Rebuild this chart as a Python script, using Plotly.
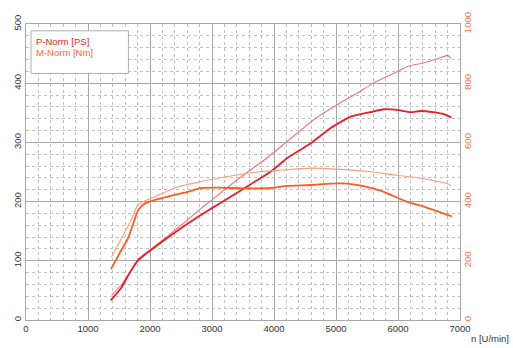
import plotly.graph_objects as go

# Power curve, main run (PS)
p_rpm = [1365, 1540, 1675, 1810, 2000, 2350, 2800, 3000, 3450, 3950, 4220, 4600,
         4910, 5100, 5250, 5550, 5770, 5980, 6200, 6360, 6570, 6760, 6860]
p_ps = [33, 55, 80, 101, 117, 144, 176, 189, 218, 251, 274, 299,
        324, 336, 344, 351, 356, 355, 351, 353, 351, 347, 342]

# Power curve, second run (PS)
p2_rpm = [1380, 1540, 1680, 1810, 2020, 2500, 2830, 3000, 3360, 3900, 4160, 4650,
          5070, 5340, 5610, 5960, 6170, 6410, 6680, 6800, 6855]
p2_ps = [42, 60, 82, 103, 120, 160, 189, 203, 233, 275, 297, 339,
         367, 383, 401, 418, 429, 434, 443, 447, 442]

# Torque curve, main run (Nm)
m_rpm = [1370, 1500, 1650, 1810, 1920, 2290, 2610, 2830, 3100, 3500, 3950, 4220,
         4590, 4910, 5180, 5390, 5560, 5770, 6140, 6460, 6870]
m_nm = [172, 222, 278, 372, 394, 417, 433, 446, 447, 445, 446, 453,
        456, 461, 461, 455, 446, 433, 400, 380, 350]

# Torque curve, second run (Nm)
m2_rpm = [1380, 1550, 1700, 1810, 2020, 2450, 2830, 3250, 3740, 4100, 4590, 5070,
          5560, 5980, 6250, 6620, 6790, 6855]
m2_nm = [213, 280, 340, 391, 411, 450, 468, 485, 500, 506, 513, 509,
         501, 489, 483, 469, 461, 453]

x_ticks = [0, 1000, 2000, 3000, 4000, 5000, 6000, 7000]
ps_ticks = [0, 100, 200, 300, 400, 500]
nm_ticks = [0, 200, 400, 600, 800, 1000]

RED = "#ee1c25"
PINK = "#f3737c"
ORANGE = "#ff5a22"
SALMON = "#ff9c7c"
NM_TEXT = "#ff6a3a"
GRID = "#a8a8a8"
MINOR = "#c0c0c0"
FONT = "Liberation Sans, Arial, sans-serif"


def curve(x, y, color, width, axis):
    return go.Scatter(x=x, y=y, mode="lines", yaxis=axis,
                      line=dict(color=color, width=width, shape="spline", smoothing=0.5))


fig = go.Figure()
fig.add_trace(curve(p2_rpm, p2_ps, PINK, 1.1, "y"))
fig.add_trace(curve(p_rpm, p_ps, RED, 1.8, "y"))
fig.add_trace(curve(m2_rpm, m2_nm, SALMON, 1.1, "y2"))
fig.add_trace(curve(m_rpm, m_nm, ORANGE, 1.8, "y2"))

fig.update_layout(
    width=513, height=348,
    margin=dict(l=24, r=53, t=20, b=28),
    paper_bgcolor="white", plot_bgcolor="white",
    showlegend=False,
    font=dict(family=FONT, size=9, color="#333333"),
    xaxis=dict(
        range=[0, 7000], tickvals=x_ticks, ticktext=[str(v) for v in x_ticks],
        showgrid=True, gridcolor=GRID, gridwidth=1,
        minor=dict(dtick=200, tick0=0, showgrid=True, gridcolor=MINOR,
                   griddash="3px,3px", gridwidth=1),
        showline=True, linecolor=GRID, linewidth=1, mirror=True,
        zeroline=False, ticks="", tickfont=dict(size=9.5, color="#333333"),
    ),
    yaxis=dict(
        range=[0, 500], tickvals=ps_ticks, ticktext=[str(v) for v in ps_ticks],
        showgrid=True, gridcolor=GRID, gridwidth=1,
        minor=dict(dtick=20, tick0=0, showgrid=True, gridcolor=MINOR,
                   griddash="3px,3px", gridwidth=1),
        showline=True, linecolor=GRID, linewidth=1, mirror=True,
        zeroline=False, ticks="", tickangle=-90,
        tickfont=dict(size=9.5, color="#333333"),
    ),
    yaxis2=dict(
        range=[0, 1000], tickvals=nm_ticks, ticktext=[str(v) for v in nm_ticks],
        overlaying="y", side="right", showgrid=False, zeroline=False,
        ticks="", tickangle=-90, tickfont=dict(size=9.5, color=NM_TEXT),
    ),
)

# Legend box with coloured labels
fig.add_shape(type="rect", xref="paper", yref="paper",
              x0=0.0115, x1=0.236, y0=0.833, y1=0.977,
              line=dict(color="#b0b0b0", width=1), fillcolor="white", layer="above")
fig.add_annotation(xref="paper", yref="paper", x=0.018, y=0.94,
                   xanchor="left", yanchor="middle", showarrow=False,
                   text="P-Norm [PS]", font=dict(size=9.5, color="#ee2222"))
fig.add_annotation(xref="paper", yref="paper", x=0.018, y=0.903,
                   xanchor="left", yanchor="middle", showarrow=False,
                   text="M-Norm [Nm]", font=dict(size=9.5, color="#ff6633"))

# Axis unit label
fig.add_annotation(xref="paper", yref="paper", x=1.069, y=-0.063,
                   xanchor="center", yanchor="middle", showarrow=False,
                   text="n [U/min]", font=dict(size=9.5, color="#333333"))

fig.write_html("out.html")
